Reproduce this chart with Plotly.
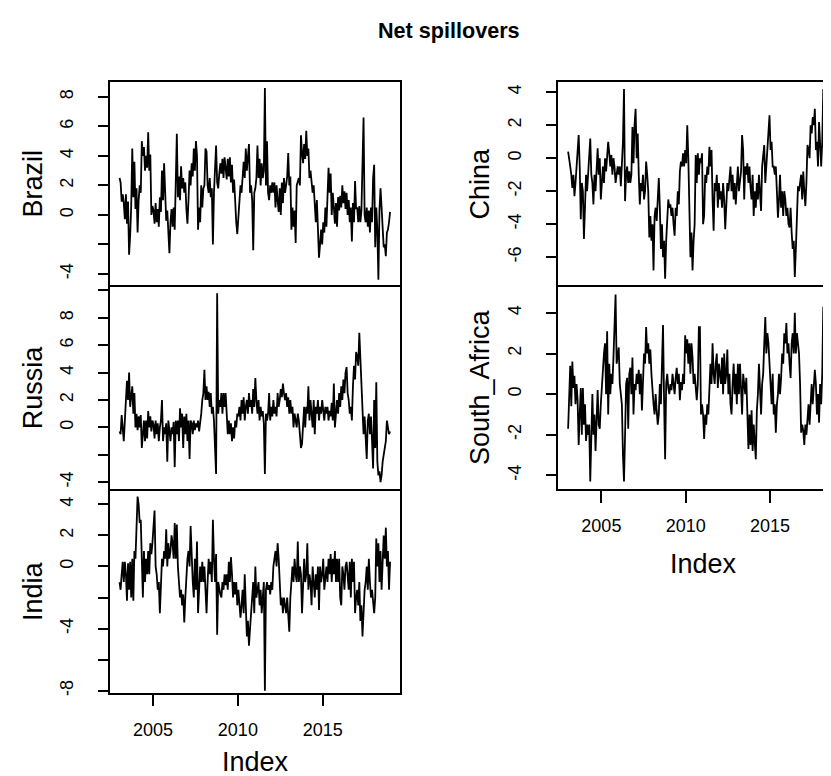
import plotly.graph_objects as go

# ---- data (16 readings per year, 2003-2018) ----
start_year = 2003.03
step = 0.0625

brazil = [
 2.5, 2.2, 0.9, 1.4, 0.8, -0.3, 1.4, -0.6, 0.9, -2.7, -1.4, 0.6, 4.5, 1.2, 3.6, 0.4,
 1.8, -1.2, 1.0, 2.0, 1.5, 5.0, 4.0, 4.6, 3.0, 4.0, 3.2, 5.6, 3.0, 4.1, 0.0, 0.6,
 0.3, -0.6, 0.8, -0.5, 0.4, -0.8, 1.2, 0.2, 3.0, 1.0, 3.5, 0.8, -0.4, 0.3, -1.2, -2.6,
 -0.5, 0.4, -0.8, 0.5, -1.0, 1.8, 5.5, 1.2, 2.6, 1.0, 3.3, 1.8, 2.5, 1.5, 2.2, 0.4,
 -0.6, 1.0, 3.0, 2.0, 3.5, 2.6, 4.5, 3.0, 5.0, 4.0, -1.0, 0.5, -0.5, 2.0, 0.5, 1.8,
 2.0, 4.5, 4.3, 2.0, 1.5, 2.5, 1.2, 1.8, -2.0, 1.5, 2.8, 4.7, 2.2, 1.8, 2.8, 3.5,
 2.8, 3.8, 2.5, 3.9, 3.2, 2.4, 3.8, 2.6, 3.9, 2.2, 3.4, 1.5, 2.4, 0.4, -0.5, -1.3,
 -0.3, 1.2, 2.0, 1.5, 2.8, 3.6, 2.5, 4.5, 3.0, 4.0, 4.8, 1.5, 2.0, 1.0, -2.4, 1.5,
 1.8, 2.5, 4.7, 2.5, 3.8, 2.0, 3.5, 2.5, 3.0, 8.6, 2.0, 5.0, 1.5, 1.0, 2.0, 1.5,
 2.2, 1.5, 2.2, 0.5, 2.0, 1.0, 0.2, 1.8, 0.0, 2.2, 0.8, 2.5, 1.5, 2.0, 2.6, 4.2,
 2.0, 2.6, -1.0, 0.5, -0.8, 0.3, -1.9, 2.0, 2.3, 2.5, 2.0, 5.4, 4.2, 3.5, 4.8, 3.8,
 5.7, 4.0, 4.5, 2.5, 3.0, 2.0, 1.5, 2.0, 0.5, -0.5, 1.0, -1.5, -2.9, -2.0, -1.0, -2.0,
 -0.5, -1.2, 0.5, -0.8, 1.0, 3.2, 1.5, 2.8, 0.0, 1.5, 0.5, -0.6, 0.8, -0.8, 1.2, 0.3,
 1.3, 0.5, 2.0, 0.8, 1.6, 0.4, 1.5, 0.0, 1.0, -0.5, 0.5, -1.8, 0.8, -0.5, 2.3, 0.4,
 0.5, -0.5, 0.6, -0.5, 0.3, 3.8, 6.6, 0.0, -0.5, 0.5, -0.8, 0.3, -1.2, 0.5, -0.5, 2.5,
 3.4, -2.2, 0.5, -1.0, -4.4, 0.3, 1.8, 0.5, -1.5, -2.2, -2.0, -2.8, -1.2, -1.0, -0.5, 0.2,
]

russia = [
 -0.3, -0.5, 0.9, -0.2, -1.0, 0.5, 2.0, 3.4, 2.0, 4.0, 1.5, 2.5, 3.0, 1.0, 2.5, 0.0,
 1.0, -0.2, 0.8, 0.0, 0.9, -1.5, -0.5, 0.5, -1.0, 0.5, -0.8, 1.2, 0.0, 0.8, -0.3, 0.5,
 0.2, -0.8, 0.5, -0.5, 0.3, -1.0, 0.0, 0.5, 2.0, -1.0, 0.0, -0.5, 0.3, -2.5, 0.5, -0.5,
 -1.0, 0.0, -0.5, 0.4, -2.9, 0.5, -0.5, 0.5, -1.0, 1.4, 0.0, 1.0, -1.5, 0.8, -0.5, 1.0,
 -1.0, 0.5, -2.3, 0.5, 0.3, -0.5, 0.5, -0.2, 0.3, 0.0, 0.5, -0.3, 0.3, 1.0, 2.0, 2.5,
 4.2, 2.0, 3.0, 2.0, 2.6, 1.5, 2.5, 1.0, 1.5, 0.5, -1.5, -3.4, 9.8, 1.0, 2.0, 1.5,
 2.5, 1.0, 2.5, 1.5, 2.5, 0.5, -0.5, 0.5, -0.5, 0.3, -1.0, 0.0, -0.8, 0.5, 0.0, 1.0,
 0.8, 1.5, 0.5, 2.0, 1.0, 2.2, 0.5, 1.5, 2.0, 1.0, 2.5, 1.5, 2.0, 1.0, 2.8, 1.5,
 3.6, 2.0, 1.0, 2.0, 0.5, 1.5, 0.8, 1.2, 0.3, -3.4, 1.0, 0.5, 1.0, 2.5, 0.5, 1.5,
 0.8, 2.0, 1.0, 1.5, 0.8, 2.5, 1.5, 2.0, 2.8, 2.2, 3.2, 2.5, 2.0, 2.5, 1.5, 2.2,
 1.0, 2.0, 1.0, 1.5, 0.0, 1.0, 0.5, 0.0, 1.0, 0.5, -0.5, -1.5, -1.2, 0.5, 1.5, 0.0,
 1.5, 1.0, 3.0, 0.5, 2.0, 1.0, 0.0, 2.0, -0.5, 1.5, 1.0, 2.0, 0.5, 1.5, 1.0, 2.0,
 1.0, 0.5, 1.5, 1.0, 1.5, 0.5, 1.2, 0.8, 1.8, 0.5, 3.2, 0.0, 1.0, 2.0, 1.0, 2.5,
 1.5, 3.0, 2.0, 3.5, 2.5, 4.0, 4.4, 2.5, 2.0, 1.0, 1.5, 0.5, 3.0, 4.5, 3.5, 5.5,
 5.2, 4.5, 6.9, 5.0, 2.0, 1.0, -0.5, 0.8, -0.5, -2.3, 0.5, 1.0, -0.5, 0.8, -1.0, -3.0,
 2.0, -1.5, 3.3, -2.5, -3.5, -3.2, -4.0, -3.5, -2.5, -2.0, -1.5, -1.0, 0.5, 0.0, -0.5, -0.3,
]

india = [
 -1.0, -1.5, -0.5, 0.3, -1.0, 0.3, -0.5, -2.2, 0.2, -1.5, 0.3, -2.0, 0.5, -2.2, 1.0, 0.5,
 2.5, 4.5, 4.0, 2.8, 3.0, 0.5, -2.0, 1.0, -1.0, 0.5, -0.5, 1.0, -0.5, 1.5, 0.8, 1.5,
 2.5, 3.6, 0.0, -0.5, -1.5, -1.0, -3.0, -1.0, 0.5, 0.0, 1.0, 0.5, 2.4, 0.0, 1.5, 0.5,
 1.0, 2.0, 1.5, 0.5, 2.8, 0.5, 2.7, 0.0, -1.0, -2.0, -1.5, -2.5, -1.8, -3.6, -2.0, -0.5,
 0.5, 1.0, 0.0, 2.6, 0.5, -1.0, -2.0, 0.5, -1.5, 1.6, -3.0, -1.5, 0.0, -1.0, 0.3, -1.0,
 0.0, -1.5, -3.0, -1.0, 0.5, -0.5, 0.3, -1.0, 3.0, 0.5, -1.0, 0.8, -4.4, -1.0, -1.5, -1.8,
 -2.0, -1.0, -1.5, -0.5, -1.2, -0.5, -1.5, 0.3, -1.0, 0.6, -0.5, -2.0, -1.0, -1.8, -1.0, -2.5,
 -1.5, -2.5, -3.3, -2.5, -1.5, -3.0, -0.5, -2.5, -4.5, -3.5, -5.1, -4.0, -3.0, -1.5, -1.0, -3.0,
 0.0, -2.0, -1.5, -1.0, -2.5, -1.5, -3.0, -2.0, -1.0, -8.0, -1.5, -1.0, -1.5, -1.2, -1.8, -1.0,
 -1.5, 0.0, 0.5, 1.0, 0.0, 1.5, 0.5, -1.0, -2.5, -2.0, -3.0, -2.0, -2.5, -3.0, -2.0, -3.0,
 -4.2, -2.0, -1.0, 0.0, -1.0, 0.5, -0.5, -1.0, 1.6, -1.0, 0.0, -0.5, -3.0, -0.5, 0.5, -1.0,
 -0.5, 1.5, -1.5, -0.5, -1.0, -2.5, 0.0, -1.0, -2.0, -0.5, -1.5, 0.0, -2.8, 0.0, -1.0, -0.5,
 0.5, -1.5, -0.5, 0.0, -1.0, 0.5, -0.5, 0.8, -1.0, 0.5, -0.5, 1.0, -1.0, 0.5, -1.0, 0.5,
 -2.0, -2.5, 0.0, -0.5, -1.5, 0.0, 0.3, -0.5, -1.5, 0.3, -2.0, 0.5, -1.0, 0.3, -3.0, -2.0,
 -1.5, -2.5, -1.0, -3.5, -2.5, -4.5, -2.5, -1.5, -1.0, 0.0, -1.5, 0.5, -1.0, -2.0, -1.5, -2.5,
 -3.0, -2.0, 1.8, 0.0, 1.5, -1.0, 1.0, -1.5, 0.5, 2.0, 0.5, 2.5, 0.0, 1.0, -1.5, 0.3,
]

china = [
 0.4, -0.3, -0.5, -1.0, -1.8, -1.0, -2.3, -1.5, -0.5, 0.0, 1.4, -0.5, -3.7, -1.5, -2.0, -4.9,
 -2.5, -1.0, -2.0, -1.0, -0.5, 1.2, -1.0, -1.5, -2.8, -1.0, -2.0, -0.5, 0.6, -1.0, 0.0, -2.5,
 -1.0, -0.5, -1.5, 0.0, -0.8, 0.5, 1.0, 0.3, -0.5, 0.2, -1.0, 0.0, -0.5, -1.5, -1.0, -0.5,
 -1.0, -0.5, -1.7, 0.0, 1.0, 4.2, -2.6, -1.0, -0.5, -1.5, -0.8, -1.5, -1.0, 1.9, -0.3, 2.0,
 3.0, 0.0, 1.5, -1.0, -2.8, -1.5, -2.0, -1.0, -2.5, -2.0, -0.2, -1.0, -2.0, -4.8, -3.5, -5.0,
 -4.0, -6.8, -3.5, -3.0, -3.8, -2.5, -1.2, -3.0, -5.5, -4.0, -6.0, -5.0, -7.3, -5.0, -4.0, -2.5,
 -3.0, -2.8, -3.5, -3.0, -4.0, -4.7, -3.0, -3.5, -2.0, -2.8, -0.8, -0.2, -0.5, 0.3, -0.5, 0.5,
 -0.3, 2.0, 0.0, -3.5, -6.0, -4.5, -6.8, -5.0, -4.0, 0.2, -1.5, 0.3, -1.0, 0.0, -0.3, 0.3,
 -4.0, -3.5, -1.0, -1.5, -0.5, -1.0, 0.7, -0.5, 0.5, -2.5, -4.4, -1.5, -2.0, -1.0, -3.0, -1.5,
 -2.5, -2.0, -3.0, -1.5, -2.5, -4.3, -3.0, -1.5, -2.0, -1.0, -0.5, -2.0, -1.0, -2.5, -1.5, -2.8,
 -1.5, -0.5, -2.0, -1.5, -0.8, 1.4, 0.5, -2.5, -0.5, -1.0, -0.3, -1.5, -0.5, -1.8, -2.5, -1.0,
 -3.5, -2.0, -3.0, -1.5, -2.5, -1.0, -2.0, -3.2, -0.5, 0.2, 0.8, -1.5, -0.5, 0.5, 1.0, 2.6,
 0.5, 1.0, -0.5, -0.5, -1.0, -0.5, -2.0, -3.6, -2.5, -1.0, -3.0, -2.0, -3.5, -2.0, -2.5, -3.5,
 -3.0, -4.0, -4.2, -3.0, -4.5, -5.5, -5.0, -7.2, -5.5, -4.0, -1.7, -2.0, -1.5, -1.0, -2.5, -0.8,
 -2.0, -2.9, -1.5, 0.8, 0.5, 0.0, 2.0, 1.5, 2.5, 2.0, 3.0, 0.5, 1.0, -0.5, 2.2, 1.0,
 -0.5, 1.0, 4.2, -1.9, -1.0, -1.5, 0.0, 0.5, -1.0, 1.5, 2.0, 0.5, 1.5, 0.8, 1.5, 0.5,
]

south_africa = [
 -1.7, -0.5, 1.4, -0.6, 1.6, 0.3, 0.9, -0.5, 0.5, -0.3, -2.5, -1.0, 0.3, -2.0, 0.3, -1.5,
 -0.5, -2.3, -1.5, -2.0, -1.5, -4.3, -1.5, 0.0, -2.0, -1.0, -2.8, -1.0, 0.2, -1.5, -1.7, -0.5,
 0.5, 1.5, 2.0, 2.5, 0.0, 3.1, -1.0, 1.5, 0.0, 1.0, 0.5, 1.8, 3.0, 4.9, 1.5, 2.0,
 2.3, 0.5, 0.0, -0.5, -3.0, -4.3, -2.0, 0.5, 0.8, -1.7, 1.0, 1.3, 0.0, 1.8, -1.0, 0.5,
 0.2, 1.0, 0.5, 1.2, 0.0, 1.0, -0.8, 1.2, 2.0, 1.5, 3.3, 2.0, 2.5, 1.5, 2.2, 1.0,
 0.0, -0.5, -1.0, 0.0, -0.8, -1.5, -1.0, 0.5, -0.5, 1.5, 3.4, -0.3, -3.2, 0.5, 1.0, 0.3,
 0.0, 0.5, 0.2, 1.0, 0.3, 0.0, 0.8, 1.3, 0.5, 1.0, -0.3, 0.6, 0.2, 1.0, 0.5, 2.9,
 2.0, 2.7, 1.5, 2.5, 1.0, 2.5, 1.8, 0.5, 1.0, 0.0, -0.3, 0.5, 3.3, 3.3, -1.0, -0.5,
 -1.0, -2.2, -1.0, -1.5, -0.5, -1.0, 0.0, 1.5, 0.5, 2.5, 1.0, 0.5, 1.5, 2.0, 0.3, 1.5,
 1.0, 0.5, 1.8, 0.0, 2.0, 0.5, 1.0, 2.2, 0.0, 1.0, -0.5, -1.0, 0.5, 1.5, 0.0, 1.0,
 -0.5, 1.5, 0.0, 1.5, 0.3, -1.0, 1.0, 0.5, 0.0, 0.8, -1.0, -2.7, -1.0, -2.5, -0.8, -2.8,
 -1.5, -2.5, -3.2, -0.8, 0.0, 1.5, 0.5, -1.0, 0.5, 1.0, 2.5, 3.8, 2.0, 3.0, 2.5, 1.5,
 0.5, -0.5, 1.0, -1.0, -0.5, -1.9, -0.5, 0.0, 1.0, 0.0, 0.8, 2.0, 1.5, 3.0, 2.5, 3.5,
 2.0, 2.5, 1.5, 0.8, 2.5, 3.0, 2.0, 4.0, 2.0, 3.0, 2.5, 2.0, 0.5, -1.9, -1.5, -1.8,
 -2.5, -1.5, -2.0, -1.0, -0.5, -1.5, -0.5, 0.5, -0.5, 0.8, 1.2, 0.5, -1.0, 0.0, -1.4, 0.5,
 -0.5, 1.0, 4.3, -0.8, 1.5, 3.2, 2.0, 3.3, 2.5, 0.5, 2.8, 1.0, 2.5, -0.3, 1.5, 0.3,
]

x_tick_vals = [2005, 2010, 2015]
x_tick_text = ["2005", "2010", "2015"]

panels = [
    # name, values, axis suffix, y tick values, y tick labels
    ("Brazil", brazil, "", [-4, -2, 0, 2, 4, 6, 8], ["-4", "", "0", "2", "4", "6", "8"]),
    ("Russia", russia, "2", [-4, -2, 0, 2, 4, 6, 8, 10], ["-4", "", "0", "2", "4", "6", "8", ""]),
    ("India", india, "3", [-8, -6, -4, -2, 0, 2, 4], ["-8", "", "-4", "", "0", "2", "4"]),
    ("China", china, "4", [-6, -4, -2, 0, 2, 4], ["-6", "-4", "-2", "0", "2", "4"]),
    ("South_Africa", south_africa, "5", [-4, -2, 0, 2, 4], ["-4", "-2", "0", "2", "4"]),
]

# ---- layout geometry ----
W, H = 831, 776
FONT = "Liberation Sans, Arial, Helvetica, sans-serif"

def py(p):  # pixel (from top) -> paper fraction
    return 1 - p / H

def px(p):
    return p / W

left_dom = [px(101.7), px(392.3)]
right_dom = [px(550.0), 1.0]
y_doms = {
    "": [py(278.3), py(74.0)],
    "2": [py(483.3), py(278.3)],
    "3": [py(687.3), py(483.3)],
    "4": [py(278.3), py(74.0)],
    "5": [py(482.7), py(278.3)],
}
y_ranges = {
    "": [-4.77, 9.03],
    "2": [-4.53, 10.38],
    "3": [-8.12, 4.96],
    "4": [-7.70, 4.64],
    "5": [-4.66, 5.36],
}
left_xrange = [2002.45, 2019.57]
right_xrange = [2002.43, 2019.087]

fig = go.Figure()
layout = dict(
    width=W, height=H,
    margin=dict(l=0, r=0, t=0, b=0),
    paper_bgcolor="white", plot_bgcolor="white",
    showlegend=False,
    font=dict(family=FONT, color="black", size=18),
)

annotations = []
LW = 1.5
for name, vals, s, yt, ytt in panels:
    xs = [start_year + i * step for i in range(len(vals))]
    fig.add_trace(go.Scatter(
        x=xs, y=vals, mode="lines",
        line=dict(color="black", width=1.8),
        xaxis="x" + s, yaxis="y" + s, hoverinfo="skip",
    ))
    right = s in ("4", "5")
    bottom = s in ("3", "5")
    top = s in ("", "4")
    layout["xaxis" + s] = dict(
        domain=right_dom if right else left_dom,
        range=right_xrange if right else left_xrange,
        anchor="y" + s,
        showgrid=False, zeroline=False,
        showline=True, linecolor="black", linewidth=LW, mirror=True if top else False,
        tickmode="array", tickvals=x_tick_vals, ticktext=x_tick_text,
        ticks="outside" if bottom else "", ticklen=12, tickwidth=LW, tickcolor="black",
        showticklabels=bottom,
        tickfont=dict(size=18, family=FONT, color="black"),
        ticklabelstandoff=8,
    )
    layout["yaxis" + s] = dict(
        domain=y_doms[s], range=y_ranges[s],
        anchor="x" + s,
        showgrid=False, zeroline=False,
        showline=True, linecolor="black", linewidth=LW,
        mirror=False if right else True,
        tickmode="array", tickvals=yt, ticktext=ytt,
        ticks="outside", ticklen=10, tickwidth=LW, tickcolor="black",
        tickangle=-90,
        tickfont=dict(size=18, family=FONT, color="black"),
        ticklabelstandoff=18,
    )
    # axis title (panel label)
    yc = (y_doms[s][0] + y_doms[s][1]) / 2
    annotations.append(dict(
        text=name, x=px(472 if right else 25), y=yc,
        xref="paper", yref="paper", xanchor="center", yanchor="middle",
        textangle=-90, showarrow=False,
        font=dict(size=27, family=FONT, color="black"),
    ))

# x axis titles
annotations.append(dict(text="Index", x=px(247), y=py(757), xref="paper", yref="paper",
                        xanchor="center", yanchor="middle", showarrow=False,
                        font=dict(size=27, family=FONT, color="black")))
annotations.append(dict(text="Index", x=px(695.5), y=py(558), xref="paper", yref="paper",
                        xanchor="center", yanchor="middle", showarrow=False,
                        font=dict(size=27, family=FONT, color="black")))
# main title
annotations.append(dict(text="<b>Net spillovers</b>", x=px(441), y=py(23), xref="paper", yref="paper",
                        xanchor="center", yanchor="middle", showarrow=False,
                        font=dict(size=21.6, family=FONT, color="black")))

layout["annotations"] = annotations
fig.update_layout(**layout)
fig.write_html("out.html")
